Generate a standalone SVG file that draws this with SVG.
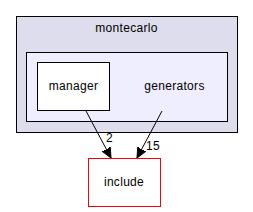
<svg xmlns="http://www.w3.org/2000/svg" width="253" height="212" viewBox="0 0 253 212">
<style>
text{font-family:"Liberation Sans",Arial,sans-serif;font-size:12px;letter-spacing:0.3px;fill:#000}
.e{stroke:#000;stroke-width:1;fill:none}
</style>
<defs>
<marker id="ah" markerWidth="10" markerHeight="10" refX="10" refY="5" orient="auto" markerUnits="userSpaceOnUse">
<path d="M0,0.5 L10,5 L0,9.5 Z" fill="#000" stroke="#000"/>
</marker>
</defs>
<rect width="253" height="212" fill="#fff"/>
<g id="montecarlo">
<rect x="16.5" y="16.5" width="221" height="116" fill="#ddddee" stroke="#000"/>
<text x="126.5" y="32" text-anchor="middle">montecarlo</text>
</g>
<g id="generators">
<rect x="26.5" y="52.5" width="201" height="69" fill="#eeeeff" stroke="#000"/>
<text x="174.5" y="90" text-anchor="middle">generators</text>
</g>
<g id="manager">
<rect x="37.5" y="62.5" width="72" height="48" fill="#fff" stroke="#000"/>
<text x="73.5" y="90" text-anchor="middle">manager</text>
</g>
<g id="include">
<rect x="88.5" y="158.5" width="72" height="48" fill="#fff" stroke="#ff0000"/>
<text x="124" y="186" text-anchor="middle">include</text>
</g>
<g id="edges">
<path class="e" d="M86,111 L111,158" marker-end="url(#ah)"/>
<text x="106" y="142">2</text>
<path class="e" d="M162,111 L137,158" marker-end="url(#ah)"/>
<text x="146" y="150">15</text>
</g>
</svg>
